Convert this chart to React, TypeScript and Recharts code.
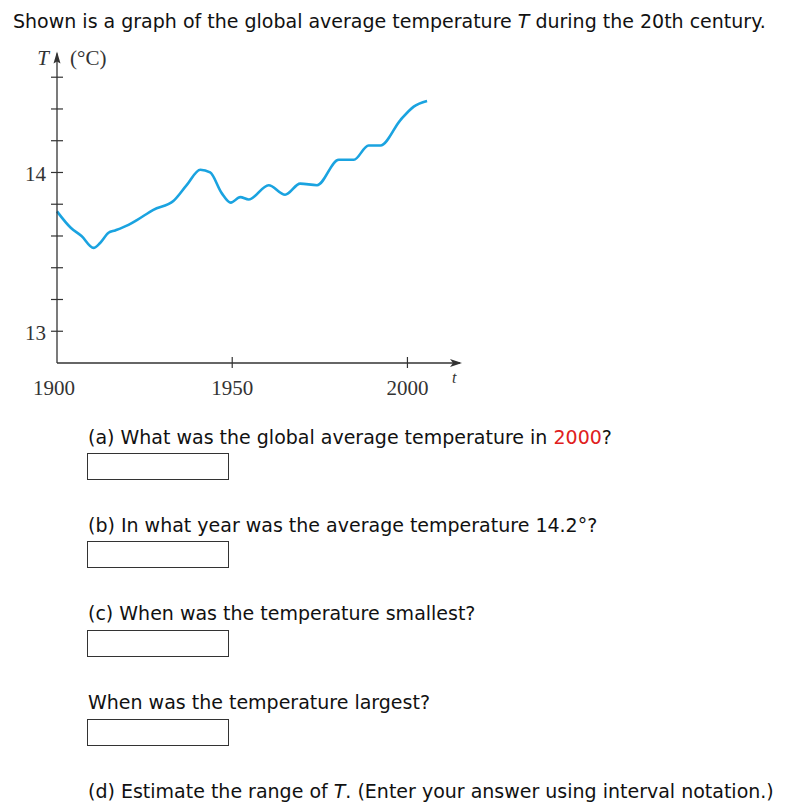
import { LineChart, Line, XAxis, YAxis, ReferenceDot } from 'recharts'

// years and temperatures
const years = [1900, 1904, 1907, 1910.4, 1912.3, 1914.7, 1916.6, 1920.4, 1922.8, 1927.5, 1933.2, 1937, 1940.9, 1943.7, 1947, 1949.6, 1952.3, 1954.7, 1960.4, 1965.1, 1969.4, 1974.2, 1980.4, 1984.7, 1988.9, 1992.3, 1998, 2001.8, 2005.6]
const temps = [13.755, 13.65, 13.6, 13.525, 13.556, 13.62, 13.635, 13.67, 13.7, 13.765, 13.82, 13.92, 14.017, 14.0, 13.87, 13.81, 13.845, 13.83, 13.92, 13.86, 13.93, 13.92, 14.08, 14.08, 14.17, 14.17, 14.33, 14.415, 14.45]

const xTicks = [1900, 1950, 2000]
const yTicks = [13, 13.2, 13.4, 13.6, 13.8, 14, 14.2, 14.4, 14.6]
const yLabels = [13, 14]

const questions = [
  { top: 426, text: '(a) What was the global average temperature in ', red: '2000', after: '?', box: 453 },
  { top: 514, text: '(b) In what year was the average temperature 14.2°?', box: 541 },
  { top: 602, text: '(c) When was the temperature smallest?', box: 630 },
  { top: 691, text: 'When was the temperature largest?', box: 719 },
  { top: 780, text: '(d) Estimate the range of ', italic: 'T', after: '. (Enter your answer using interval notation.)' },
]

const data = years.map((t, i) => ({ t, T: temps[i] }))

const axisColor = '#333'
const serif = '"Liberation Serif", serif'
const sans = '"DejaVu Sans", sans-serif'

function YTick(props: any) {
  const { x, y, payload } = props
  return (
    <g>
      <line x1={x - 6} x2={x + 6} y1={y} y2={y} stroke={axisColor} strokeWidth={1.2} />
      {yLabels.includes(payload.value) && (
        <text x={x - 11} y={y + 9} textAnchor="end" fontFamily={serif} fontSize={21} fill="#333">
          {payload.value}
        </text>
      )}
    </g>
  )
}

function XTick(props: any) {
  const { x, y, payload } = props
  return (
    <g>
      {payload.value !== 1900 && (
        <line x1={x} x2={x} y1={y - 6} y2={y + 5} stroke={axisColor} strokeWidth={1.2} />
      )}
      <text x={payload.value === 1900 ? x - 3 : x} y={y + 32} textAnchor="middle" fontFamily={serif} fontSize={21} fill="#333">
        {payload.value}
      </text>
    </g>
  )
}

function UpArrow(props: any) {
  const { cx, cy } = props
  return (
    <g>
      <path d={`M${cx} ${cy - 2} L${cx + 3.5} ${cy + 10} L${cx} ${cy + 8} L${cx - 3.5} ${cy + 10} Z`} fill={axisColor} />
      <text x={cx - 8} y={cy + 12} textAnchor="end" fontFamily={serif} fontStyle="italic" fontSize={21} fill="#333">T</text>
      <text x={cx + 13} y={cy + 12} fontFamily={serif} fontSize={21} fill="#333">(°C)</text>
    </g>
  )
}

function RightArrow(props: any) {
  const { cx, cy } = props
  return (
    <g>
      <path d={`M${cx + 2} ${cy} L${cx - 10} ${cy - 4} L${cx - 7} ${cy} L${cx - 10} ${cy + 4} Z`} fill={axisColor} />
      <text x={cx - 8} y={cy + 20} fontFamily={serif} fontStyle="italic" fontSize={16} fill="#333">t</text>
    </g>
  )
}

export default function App() {
  return (
    <div style={{ position: 'absolute', left: 0, top: 0, width: 789, height: 807, background: '#fff', fontFamily: sans, color: '#111' }}>
      <div style={{ position: 'absolute', left: 13, top: 10, fontSize: 19, whiteSpace: 'nowrap' }}>
        Shown is a graph of the global average temperature <i>T</i> during the 20th century.
      </div>
      <div style={{ position: 'absolute', left: 0, top: 0 }}>
        <LineChart width={789} height={420} data={data} margin={{ top: 53.4, left: 56, right: 329, bottom: 56 }}>
          <XAxis
            dataKey="t"
            type="number"
            domain={[1900, 2015]}
            ticks={xTicks}
            height={1}
            tickSize={0}
            tickMargin={0}
            tickLine={false}
            tick={<XTick />}
            axisLine={{ stroke: axisColor, strokeWidth: 1.3 }}
            interval={0}
          />
          <YAxis
            type="number"
            domain={[12.8, 14.75]}
            ticks={yTicks}
            width={1}
            tickSize={0}
            tickMargin={0}
            tickLine={false}
            tick={<YTick />}
            axisLine={{ stroke: axisColor, strokeWidth: 1.3 }}
            interval={0}
          />
          <Line
            type="monotone"
            dataKey="T"
            stroke="#1aa3e0"
            strokeWidth={2.6}
            dot={false}
            isAnimationActive={false}
          />
          <ReferenceDot x={1900} y={14.75} ifOverflow="visible" shape={<UpArrow />} />
          <ReferenceDot x={2015} y={12.8} ifOverflow="visible" shape={<RightArrow />} />
        </LineChart>
      </div>
      {questions.map((q, i) => (
        <div key={i}>
          <div style={{ position: 'absolute', left: 88, top: q.top, fontSize: 19, whiteSpace: 'nowrap' }}>
            {q.text}
            {q.red && <span style={{ color: '#e02020' }}>{q.red}</span>}
            {q.italic && <i>{q.italic}</i>}
            {q.after}
          </div>
          {q.box && (
            <div style={{ position: 'absolute', left: 87, top: q.box, width: 140, height: 25, border: '1.5px solid #333' }} />
          )}
        </div>
      ))}
    </div>
  )
}
